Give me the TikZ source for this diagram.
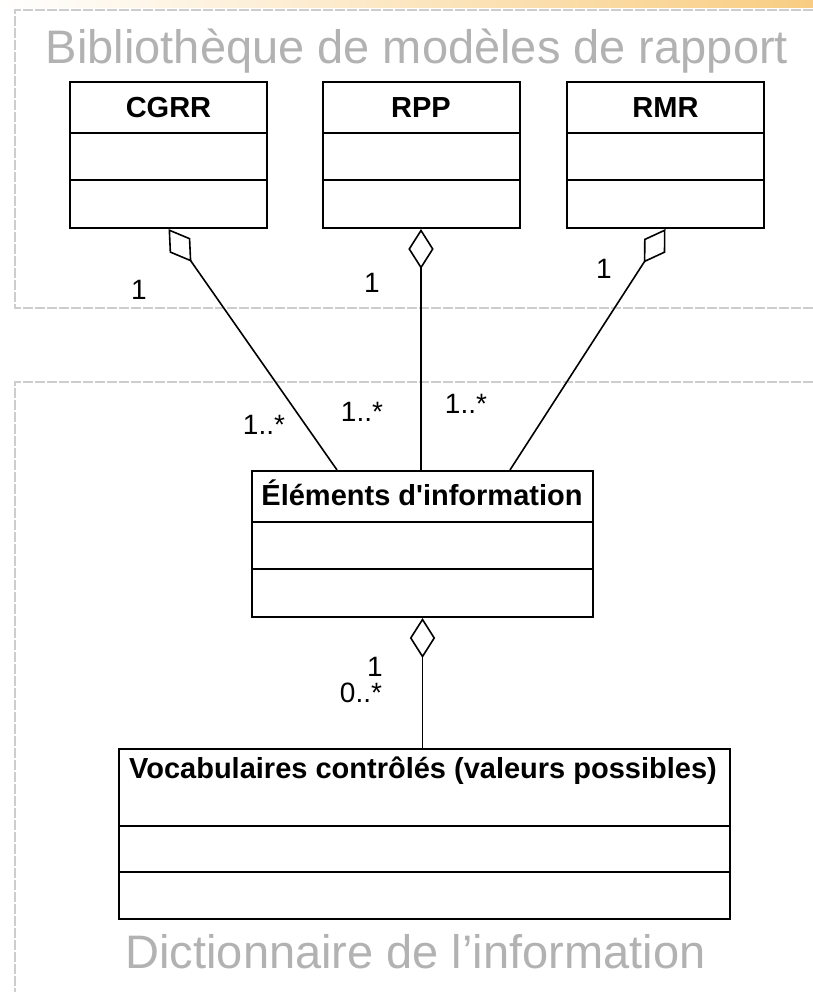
\documentclass[tikz,border=0pt]{standalone}
\usepackage{fontspec}
\setmainfont{Liberation Sans}
\usetikzlibrary{arrows.meta}
\definecolor{framegray}{RGB}{205,205,205}
\definecolor{titlegray}{RGB}{178,178,178}
\definecolor{stripor}{RGB}{248,205,130}
\begin{document}
\begin{tikzpicture}[x=0.75pt,y=-0.75pt,
  classbox/.style={draw=black, line width=1.5pt, fill=white, inner sep=0pt},
  divider/.style={line width=1.5pt},
  cname/.style={font=\bfseries\fontsize{21.75}{26}\selectfont, inner sep=0pt},
  mult/.style={font=\fontsize{21}{25}\selectfont, inner sep=0pt},
  frametitle/.style={font=\fontsize{35.25}{42}\selectfont, text=titlegray, inner sep=0pt},
  frameline/.style={draw=framegray, line width=1.5pt, dash pattern=on 7.5pt off 1.5pt},
  agg/.style={line width=1.2pt, {Diamond[open, length=30pt, width=19pt, line width=1.2pt]}-}
]
\useasboundingbox (0,0) rectangle (813,992);
\fill[white] (0,0) rectangle (813,992);
\shade[left color=white, right color=stripor] (0,0) rectangle (813,7);

% frames
\draw[frameline] (813,10) -- (15,10) -- (15,308) -- (813,308);
\draw[frameline] (813,382) -- (15,382) -- (15,992);
\node[frametitle, anchor=base] (t1) at (417,63) {Bibliothèque de modèles de rapport};
\node[frametitle, anchor=base] (t2) at (415.5,968) {Dictionnaire de l’information};

% classes
\node[classbox, minimum width=147.75pt, minimum height=109.5pt] (cgrr) at (168.5,155) {};
\node[classbox, minimum width=147.75pt, minimum height=109.5pt] (rpp) at (421,155) {};
\node[classbox, minimum width=147.75pt, minimum height=109.5pt] (rmr) at (665.5,155) {};
\node[classbox, minimum width=255.75pt, minimum height=109.5pt] (elem) at (422.5,544) {};
\node[classbox, minimum width=458.25pt, minimum height=127.5pt] (vocab) at (424.5,834) {};

\foreach \n in {cgrr,rpp,rmr,elem}{
  \draw[divider] ([yshift=-39pt]\n.north west) -- ([yshift=-39pt]\n.north east);
  \draw[divider] ([yshift=-74.25pt]\n.north west) -- ([yshift=-74.25pt]\n.north east);
}
\draw[divider] ([yshift=-58.5pt]vocab.north west) -- ([yshift=-58.5pt]vocab.north east);
\draw[divider] ([yshift=-93pt]vocab.north west) -- ([yshift=-93pt]vocab.north east);

\node[cname, anchor=base] (ncgrr) at (168.5,117) {CGRR};
\node[cname, anchor=base] (nrpp) at (421,117) {RPP};
\node[cname, anchor=base] (nrmr) at (665.5,117) {RMR};
\node[cname, anchor=base] (nelem) at (422,505) {Éléments d\textquotesingle information};
\node[cname, anchor=base] (nvocab) at (423,778) {Vocabulaires contrôlés (valeurs possibles)};

% connectors
\draw[agg] (cgrr.south) -- ([xshift=-64.1pt]elem.north);
\draw[agg] (rpp.south) -- (rpp.south |- elem.north);
\draw[agg] (rmr.south) -- ([xshift=65.6pt]elem.north);
\draw[agg] (elem.south) -- (elem.south |- vocab.north);

% multiplicities
\node[mult] (m1) at (139,290) {1};
\node[mult] (m2) at (372,283) {1};
\node[mult] (m3) at (604,269) {1};
\node[mult] (m4) at (264,425) {1..*};
\node[mult] (m5) at (362,412) {1..*};
\node[mult] (m6) at (466,404) {1..*};
\node[mult] (m7) at (375,667) {1};
\node[mult] (m8) at (361,693) {0..*};
\end{tikzpicture}
\end{document}
